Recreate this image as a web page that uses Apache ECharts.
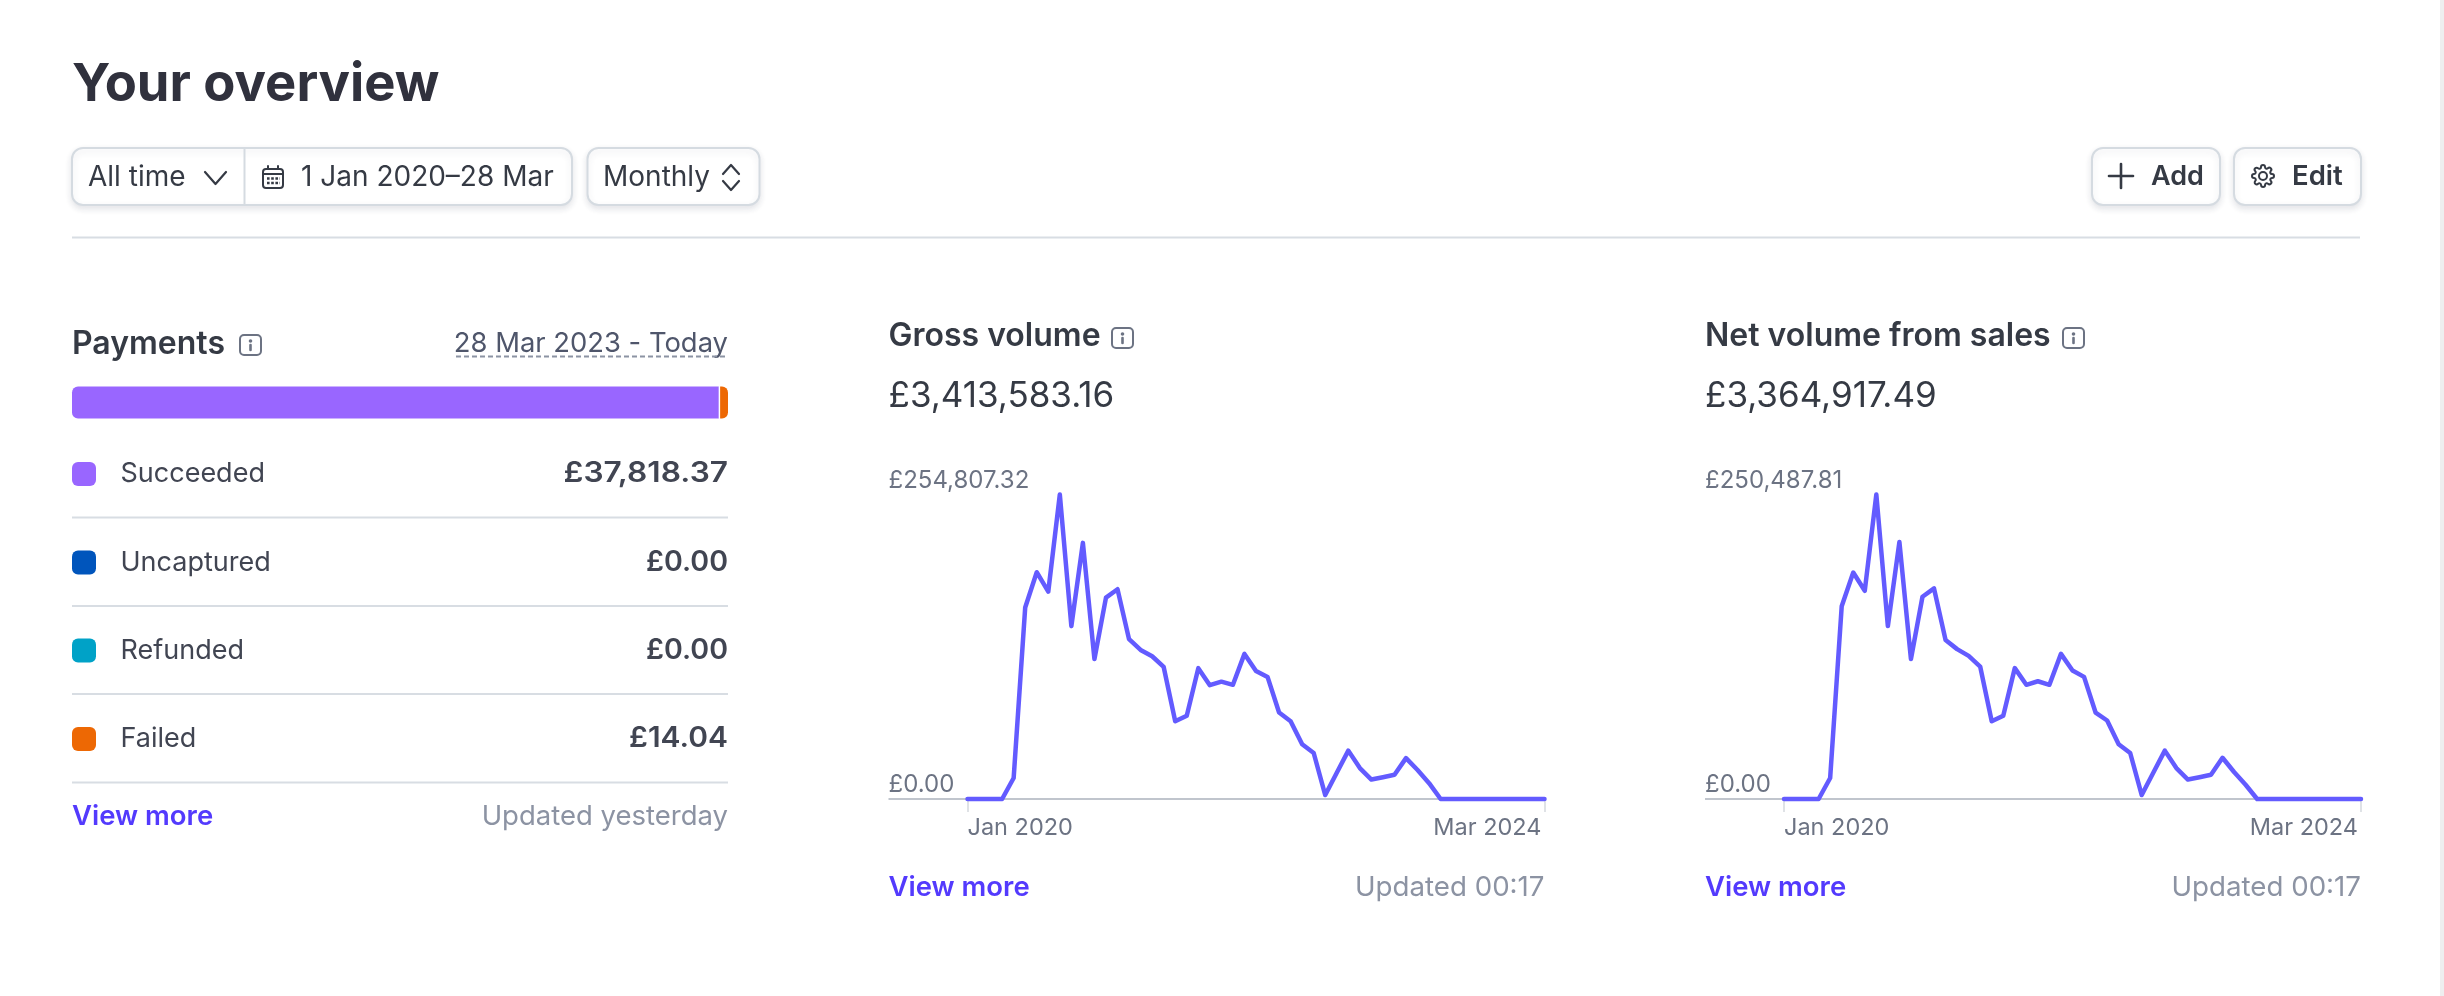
<!DOCTYPE html>
<html>
<head>
<meta charset="utf-8">
<title>Your overview</title>
<script src="https://cdn.jsdelivr.net/npm/echarts@6/dist/echarts.min.js"></script>
<style>
html, body { margin: 0; padding: 0; background: #fff; }
#main { width: 2444px; height: 996px; }
</style>
</head>
<body>
<div id="main"></div>
<script>
var months = [
  'Jan 2020','Feb 2020','Mar 2020','Apr 2020','May 2020','Jun 2020','Jul 2020','Aug 2020','Sep 2020','Oct 2020','Nov 2020','Dec 2020',
  'Jan 2021','Feb 2021','Mar 2021','Apr 2021','May 2021','Jun 2021','Jul 2021','Aug 2021','Sep 2021','Oct 2021','Nov 2021','Dec 2021',
  'Jan 2022','Feb 2022','Mar 2022','Apr 2022','May 2022','Jun 2022','Jul 2022','Aug 2022','Sep 2022','Oct 2022','Nov 2022','Dec 2022',
  'Jan 2023','Feb 2023','Mar 2023','Apr 2023','May 2023','Jun 2023','Jul 2023','Aug 2023','Sep 2023','Oct 2023','Nov 2023','Dec 2023',
  'Jan 2024','Feb 2024','Mar 2024'
];
var grossVolume = [
  0, 0, 0, 0, 17585, 160250, 189790, 173530, 254807.32, 144660, 214340, 117120,
  168550, 175520, 133710, 124750, 119440, 110480, 65030, 69680, 109490, 95220, 98210, 95550,
  121430, 107170, 102190, 72330, 65030, 45790, 38490, 3320, 21900, 40480, 25880, 16260,
  18250, 20240, 34180, 24220, 13270, 0, 0, 0, 0, 0, 0, 0, 0, 0, 0
];
var netVolume = [
  0, 0, 0, 0, 17290, 158530, 186260, 171260, 250487.81, 142220, 211380, 115150,
  166360, 173210, 130810, 123300, 117760, 108950, 63940, 68500, 107650, 93950, 96880, 93950,
  119390, 105690, 100470, 71110, 64590, 45020, 37840, 3260, 21530, 39800, 25440, 15980,
  17940, 19900, 33920, 22180, 11740, 0, 0, 0, 0, 0, 0, 0, 0, 0, 0
];
var paymentNames = ['Succeeded', 'Uncaptured', 'Refunded', 'Failed'];
var paymentAmounts = ['£37,818.37', '£0.00', '£0.00', '£14.04'];
var paymentColors = ['#9966ff', '#0055bc', '#00a2c7', '#ed6804'];
// widths of the bar segments as they are drawn in the picture, failed has a minimum width there
var paymentShares = [0.986, 0, 0, 0.012];
var paymentGap = 0.002;

var FONT = 'Inter';
var INK = '#353a44';
var GREY = '#6c7383';
var LIGHT = '#8c93a3';
var LINK = '#533afd';
var RULE = '#d8dde3';

var gearPath = 'M19.4 15a1.65 1.65 0 0 0 .33 1.82l.06.06a2 2 0 0 1 0 2.83 2 2 0 0 1-2.83 0l-.06-.06a1.65 1.65 0 0 0-1.82-.33 1.65 1.65 0 0 0-1 1.51V21a2 2 0 0 1-2 2 2 2 0 0 1-2-2v-.09A1.65 1.65 0 0 0 9 19.4a1.65 1.65 0 0 0-1.82.33l-.06.06a2 2 0 0 1-2.83 0 2 2 0 0 1 0-2.83l.06-.06a1.65 1.65 0 0 0 .33-1.82 1.65 1.65 0 0 0-1.51-1H3a2 2 0 0 1-2-2 2 2 0 0 1 2-2h.09A1.65 1.65 0 0 0 4.6 9a1.65 1.65 0 0 0-.33-1.82l-.06-.06a2 2 0 0 1 0-2.83 2 2 0 0 1 2.83 0l.06.06a1.65 1.65 0 0 0 1.82.33H9a1.65 1.65 0 0 0 1-1.51V3a2 2 0 0 1 2-2 2 2 0 0 1 2 2v.09a1.65 1.65 0 0 0 1 1.51 1.65 1.65 0 0 0 1.82-.33l.06-.06a2 2 0 0 1 2.83 0 2 2 0 0 1 0 2.83l-.06.06a1.65 1.65 0 0 0-.33 1.82V9a1.65 1.65 0 0 0 1.51 1H21a2 2 0 0 1 2 2 2 2 0 0 1-2 2h-.09a1.65 1.65 0 0 0-1.51 1z';
echarts.graphic.registerShape('gear', echarts.graphic.extendPath(gearPath, {}));

var graphic = [];

function text(x, y, str, size, color, weight, align, stretch) {
  graphic.push({
    type: 'text', x: x, y: y, scaleX: stretch || 1, silent: true,
    style: {
      text: str, fontFamily: FONT, fontSize: size, fontWeight: weight || 400,
      fill: color, align: align || 'left', verticalAlign: 'middle'
    }
  });
}
function hline(x1, x2, y, color, width, dash) {
  graphic.push({
    type: 'line', silent: true,
    shape: { x1: x1, y1: y, x2: x2, y2: y },
    style: { stroke: color, lineWidth: width, lineDash: dash }
  });
}
function seg(x1, y1, x2, y2, color, width) {
  graphic.push({
    type: 'line', silent: true,
    shape: { x1: x1, y1: y1, x2: x2, y2: y2 },
    style: { stroke: color, lineWidth: width, lineCap: 'round' }
  });
}
function poly(points, color, width) {
  graphic.push({
    type: 'polyline', silent: true,
    shape: { points: points },
    style: { stroke: color, lineWidth: width, fill: null, lineCap: 'round', lineJoin: 'round' }
  });
}
function box(x, y, w, h) {
  graphic.push({
    type: 'rect', silent: true,
    shape: { x: x, y: y, width: w, height: h, r: 11 },
    style: {
      fill: '#fff', stroke: '#d5dbe1', lineWidth: 2,
      shadowBlur: 6, shadowOffsetY: 3, shadowColor: 'rgba(50,60,80,0.12)'
    }
  });
}
function infoIcon(x, y) {
  graphic.push({
    type: 'rect', silent: true,
    shape: { x: x, y: y, width: 21, height: 20, r: 4 },
    style: { fill: 'none', stroke: GREY, lineWidth: 2 }
  });
  graphic.push({
    type: 'circle', silent: true,
    shape: { cx: x + 10.5, cy: y + 6, r: 1.8 },
    style: { fill: GREY }
  });
  seg(x + 10.5, y + 10, x + 10.5, y + 15, GREY, 2.6);
}

// page header
text(72, 85, 'Your overview', 52.5, '#30313d', 700);
box(72, 148, 500, 57);
seg(244.5, 148, 244.5, 205, '#d5dbe1', 2);
text(88, 177.5, 'All time', 28, INK, 400);
poly([[205, 172], [215.5, 184], [226, 172]], INK, 2.2);
graphic.push({
  type: 'rect', silent: true,
  shape: { x: 263, y: 169, width: 20, height: 19, r: 3 },
  style: { fill: 'none', stroke: INK, lineWidth: 2 }
});
seg(263, 174, 283, 174, INK, 2);
seg(268, 166, 268, 169, INK, 2);
seg(278, 166, 278, 169, INK, 2);
hline(267, 280, 178.5, INK, 2.4, [2.6, 1.6]);
hline(267, 280, 183, INK, 2.4, [2.6, 1.6]);
text(301, 177.5, '1 Jan 2020–28 Mar', 28, INK, 400);
box(587.5, 148, 172, 57);
text(603, 177.5, 'Monthly', 28, INK, 400);
poly([[723, 174], [731, 165], [739, 174]], INK, 2.2);
poly([[723, 181], [731, 190], [739, 181]], INK, 2.2);
box(2092, 148, 128, 57);
seg(2109, 176, 2133, 176, INK, 2.6);
seg(2121, 164, 2121, 188, INK, 2.6);
text(2151, 177, 'Add', 27, INK, 600);
box(2234, 148, 127, 57);
graphic.push({
  type: 'gear', silent: true, x: 2251, y: 164,
  style: { fill: 'none', stroke: INK, lineWidth: 2 }
});
graphic.push({
  type: 'circle', silent: true,
  shape: { cx: 2263, cy: 176, r: 4 },
  style: { fill: 'none', stroke: INK, lineWidth: 2 }
});
text(2292, 177, 'Edit', 27.5, INK, 600);
hline(72, 2360, 237.5, RULE, 2);

// payments panel
text(72, 344.5, 'Payments', 32, INK, 600);
infoIcon(240, 335);
text(728, 343.5, '28 Mar 2023 - Today', 27.4, '#4f566b', 400, 'right');
hline(456, 728, 356.5, '#8c93a3', 2, [5, 3]);
var rowY = [474, 562.5, 650.5, 739];
// the amounts are set wider in the picture than Inter draws them
var amountStretch = [1.13, 1.02, 1.02, 1.07];
paymentNames.forEach(function (name, i) {
  graphic.push({
    type: 'rect', silent: true,
    shape: { x: 72, y: rowY[i] - 12, width: 24, height: 24, r: 6 },
    style: { fill: paymentColors[i] }
  });
  text(120.5, rowY[i], name, 27, '#414552', 400);
  text(728, rowY[i], paymentAmounts[i], 28, '#414552', 600, 'right', amountStretch[i]);
  hline(72, 728, rowY[i] + 43.5, RULE, 2);
});
text(72, 817, 'View more', 27.5, LINK, 600);
text(728, 817, 'Updated yesterday', 27.5, LIGHT, 400, 'right');

// gross volume and net volume panels
var panels = [
  { title: 'Gross volume', total: '£3,413,583.16', left: 888.5, x0: 967.5, icon: 1112, textRight: 1544.5 },
  { title: 'Net volume from sales', total: '£3,364,917.49', left: 1705, x0: 1784, icon: 2063, textRight: 2361 }
];
panels.forEach(function (p) {
  text(p.left, 336.5, p.title, 32, INK, 600);
  infoIcon(p.icon, 328);
  text(p.left, 396, p.total, 35, INK, 400);
  hline(p.left, p.x0, 799, '#c0c5cd', 2);
  text(p.left, 888, 'View more', 27.5, LINK, 600);
  text(p.textRight, 888, 'Updated 00:17', 27.7, LIGHT, 400, 'right');
});

// scrollbar edge at the right of the page
graphic.push({
  type: 'rect', silent: true,
  shape: { x: 2440, y: 0, width: 4, height: 996 },
  style: { fill: '#eeeeef' }
});

function money(v) {
  return '£' + v.toLocaleString('en-GB', { minimumFractionDigits: 2, maximumFractionDigits: 2 });
}
function endsOnly(i) {
  return i === 0 || i === months.length - 1;
}
function volumeAxes(grid, peak) {
  return {
    x: {
      type: 'category', gridIndex: grid, data: months, boundaryGap: false,
      axisLine: { lineStyle: { color: '#c0c5cd', width: 2 } },
      axisTick: { interval: endsOnly, length: 13, lineStyle: { color: '#dfe2e6', width: 2 } },
      axisLabel: {
        interval: endsOnly, margin: 17, color: GREY, fontFamily: FONT, fontSize: 23.5, padding: [0, 3, 0, 0],
        alignMinLabel: 'left', alignMaxLabel: 'right'
      }
    },
    y: {
      type: 'value', gridIndex: grid, min: 0, max: peak, interval: peak,
      axisLine: { show: false }, axisTick: { show: false }, splitLine: { show: false },
      axisLabel: {
        margin: 0, color: GREY, fontFamily: FONT, fontSize: 24, padding: [0, 0, 2, 0],
        align: 'left', verticalAlign: 'bottom', formatter: money
      }
    }
  };
}
var grossAxes = volumeAxes(1, grossVolume[8]);
var netAxes = volumeAxes(2, netVolume[8]);
grossAxes.y.axisLabel.margin = panels[0].x0 - panels[0].left;
netAxes.y.axisLabel.margin = panels[1].x0 - panels[1].left;

function volumeSeries(name, grid, values) {
  return {
    name: name, type: 'line', xAxisIndex: grid, yAxisIndex: grid, data: values,
    showSymbol: false, clip: false, z: 5,
    lineStyle: { color: '#635bff', width: 4.5, join: 'round', cap: 'round' }
  };
}

var barSeries = paymentNames.map(function (name, i) {
  return {
    name: name, type: 'bar', stack: 'pay', xAxisIndex: 0, yAxisIndex: 0, barWidth: 32,
    data: [paymentShares[i]],
    itemStyle: {
      color: paymentColors[i],
      borderRadius: i === 0 ? [6, 0, 0, 6] : (i === 3 ? [0, 6, 6, 0] : 0)
    }
  };
});
// the white gap in front of the failed segment
barSeries.splice(3, 0, {
  name: 'gap', type: 'bar', stack: 'pay', xAxisIndex: 0, yAxisIndex: 0, barWidth: 32,
  data: [paymentGap], itemStyle: { color: '#fff' }
});

var myChart = echarts.init(document.getElementById('main'), null, { renderer: 'canvas' });

var option = {
  animation: false,
  backgroundColor: '#fff',
  textStyle: { fontFamily: FONT },
  graphic: { elements: graphic },
  grid: [
    { left: 72, top: 386.5, width: 656, height: 32 },
    { left: 967.5, top: 494.5, width: 577, height: 304.5 },
    { left: 1784, top: 494.5, width: 577, height: 304.5 }
  ],
  xAxis: [
    { type: 'value', gridIndex: 0, min: 0, max: 1, show: false },
    grossAxes.x,
    netAxes.x
  ],
  yAxis: [
    { type: 'category', gridIndex: 0, data: ['Payments'], show: false },
    grossAxes.y,
    netAxes.y
  ],
  series: barSeries.concat([
    volumeSeries('Gross volume', 1, grossVolume),
    volumeSeries('Net volume from sales', 2, netVolume)
  ])
};

myChart.setOption(option);

window.addEventListener('resize', myChart.resize);
</script>
</body>
</html>
